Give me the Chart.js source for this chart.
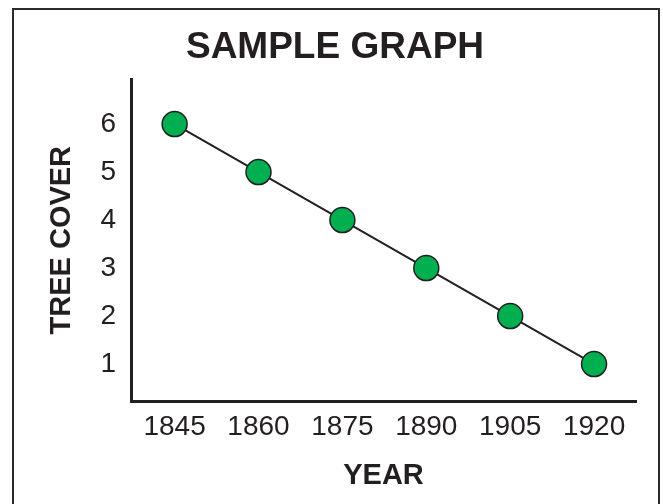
<!DOCTYPE html>
<html>
<head>
<meta charset="utf-8">
<script src="https://cdn.jsdelivr.net/npm/chart.js@4/dist/chart.umd.min.js"></script>
<style>
  html, body { margin: 0; padding: 0; background: #fff; overflow: hidden; }
  #frame { position: absolute; left: 12px; top: 8px; width: 648px; height: 600px; box-sizing: border-box; border: 2px solid #2b2b2b; border-bottom: none; }
  #wrap { position: absolute; left: 0; top: 0; width: 663px; height: 504px; }
</style>
</head>
<body>
<div id="frame"></div>
<div id="wrap"><canvas id="c"></canvas></div>
<script>
const years = [1845, 1860, 1875, 1890, 1905, 1920];
const treeCover = [6, 5, 4, 3, 2, 1];
const yTickValues = [1, 2, 3, 4, 5, 6];
const titleText = 'SAMPLE GRAPH';
const xTitle = 'YEAR';
const yTitle = 'TREE COVER';

const ink = '#231f20';
const fam = '"Liberation Sans", Arial, Helvetica, sans-serif';

new Chart(document.getElementById('c'), {
  type: 'line',
  data: {
    datasets: [{
      data: years.map((y, i) => ({ x: y, y: treeCover[i] })),
      borderColor: ink,
      borderWidth: 2,
      pointBackgroundColor: '#00b050',
      pointBorderColor: ink,
      pointBorderWidth: 1.5,
      pointRadius: 12.5,
      tension: 0,
      clip: false
    }]
  },
  options: {
    responsive: true,
    maintainAspectRatio: false,
    animation: false,
    events: [],
    layout: { padding: { left: 34, right: 27, top: 0, bottom: 0 } },
    plugins: {
      legend: { display: false },
      tooltip: { enabled: false },
      title: {
        display: true,
        text: titleText,
        color: ink,
        font: { family: fam, size: 37, weight: 'bold', lineHeight: 1.2 },
        padding: { top: 26, bottom: 9 }
      }
    },
    scales: {
      x: {
        type: 'linear',
        min: 1837.2,
        max: 1927.5,
        grid: { display: false, drawTicks: false },
        border: { display: true, width: 3, color: ink },
        afterBuildTicks: s => { s.ticks = years.map(v => ({ value: v })); },
        afterFit: s => { s.height = 103; },
        ticks: {
          color: ink,
          padding: 9,
          maxRotation: 0,
          autoSkip: false,
          font: { family: fam, size: 28 },
          callback: v => String(v)
        },
        title: {
          display: true,
          text: xTitle,
          color: ink,
          font: { family: fam, size: 29, weight: 'bold', lineHeight: 1.2 },
          padding: { top: 0, bottom: 11 }
        }
      },
      y: {
        type: 'linear',
        min: 0.23,
        max: 6.93,
        grid: { display: false, drawTicks: false },
        border: { display: true, width: 3, color: ink },
        afterBuildTicks: s => { s.ticks = yTickValues.map(v => ({ value: v })); },
        afterFit: s => { s.width = 97; },
        ticks: {
          color: ink,
          padding: 15,
          autoSkip: false,
          font: { family: fam, size: 28 },
          callback: v => String(v)
        },
        title: {
          display: true,
          text: yTitle,
          color: ink,
          font: { family: fam, size: 29, weight: 'bold', lineHeight: 1.2 },
          padding: { top: 11, bottom: 0 }
        }
      }
    }
  }
});
</script>
</body>
</html>
